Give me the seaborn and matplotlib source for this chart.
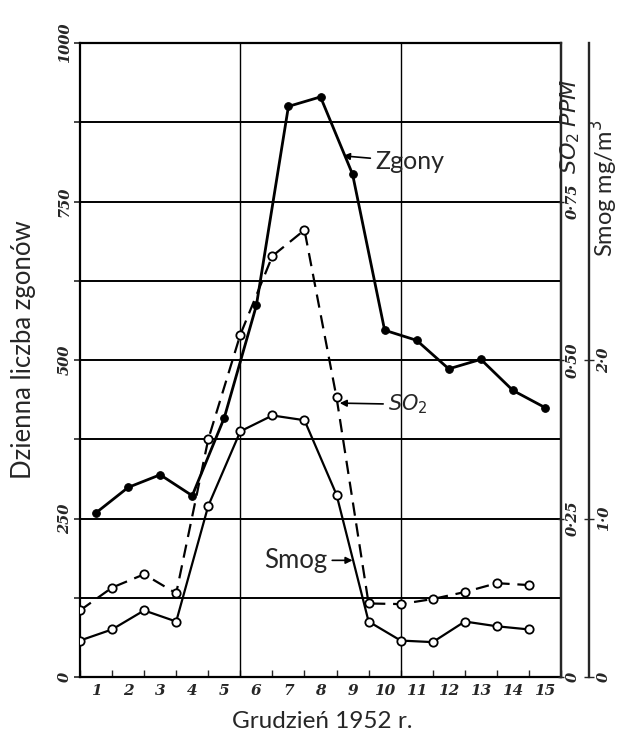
import numpy as np
import pandas as pd
import matplotlib
matplotlib.use("Agg")
import matplotlib.pyplot as plt
import seaborn as sns

# ---- data ----
days = list(range(1, 16))
day_labels = [str(d) for d in days]
deaths = [259, 299, 319, 286, 409, 586, 900, 915, 793, 547, 531, 486, 501, 452, 425]
so2_ppm = [0.105, 0.141, 0.162, 0.132, 0.375, 0.540, 0.664, 0.705, 0.441,
           0.116, 0.115, 0.123, 0.134, 0.148, 0.145]
smog_mg = [0.23, 0.30, 0.42, 0.35, 1.08, 1.55, 1.65, 1.62, 1.15,
           0.35, 0.23, 0.22, 0.35, 0.32, 0.30]
death_ticks = [0, 125, 250, 375, 500, 625, 750, 875, 1000]
death_tick_labels = ["0", "", "250", "", "500", "", "750", "", "1000"]
so2_ticks = [0, 0.25, 0.50, 0.75]
so2_tick_labels = ["0", "0·25", "0·50", "0·75"]
smog_ticks = [0, 1.0, 2.0]
smog_tick_labels = ["0", "1·0", "2·0"]
vgrid_days = [5, 10]

sns.set_style("white")
plt.rcParams["font.family"] = ["Lato", "DejaVu Sans"]
plt.rcParams["mathtext.fontset"] = "dejavusans"

df_d = pd.DataFrame({"x": np.array(days) - 0.5, "y": deaths})
df_p = pd.DataFrame({"x": np.array(days) - 1.0, "so2": so2_ppm, "smog": smog_mg})

W, H = 621, 738
fig = plt.figure(figsize=(W / 100, H / 100), dpi=100)
L, R, T, B = 80, 561, 43, 677
ax = fig.add_axes([L / W, 1 - B / H, (R - L) / W, (B - T) / H])

tickfont = dict(family="DejaVu Serif", style="italic", weight="bold", size=10.5)

# main axis
ax.set_xlim(0, 15)
ax.set_ylim(0, 1000)
ax.set_yticks(death_ticks)
ax.set_yticklabels(death_tick_labels, rotation=90, va="center", **tickfont)
ax.tick_params(axis="y", direction="out", length=4, width=1.2, pad=2, left=True)
ax.set_xticks(range(0, 16))
ax.set_xticklabels([])
ax.tick_params(axis="x", which="major", direction="in", length=5, width=1.0, bottom=True)
ax.set_xticks(np.array(days) - 0.5, minor=True)
ax.set_xticklabels(day_labels, minor=True, **dict(tickfont, size=11))
ax.tick_params(axis="x", which="minor", length=0, pad=5)
ax.grid(axis="y", color="black", linewidth=1.4)
ax.grid(axis="x", visible=False)
for xv in vgrid_days:
    ax.axvline(xv, color="black", linewidth=1.0, zorder=1)
for s in ax.spines.values():
    s.set_color("black")
    s.set_linewidth(1.6)

sns.lineplot(data=df_d, x="x", y="y", ax=ax, color="black", linewidth=2.0,
             marker="o", markersize=5.5, markerfacecolor="black",
             markeredgecolor="black", zorder=5)
ax.set_xlabel("")
ax.set_ylabel("")

# SO2 axis
ax2 = ax.twinx()
ax2.set_ylim(0, 1.0)
sns.lineplot(data=df_p, x="x", y="so2", ax=ax2, color="black", linewidth=1.6,
             linestyle=(0, (6, 3.5)), marker="o", markersize=6,
             markerfacecolor="white", markeredgecolor="black",
             markeredgewidth=1.3, zorder=4)
ax2.set_yticks(so2_ticks)
ax2.set_yticklabels(so2_tick_labels, rotation=90, va="center", **tickfont)
ax2.tick_params(axis="y", direction="inout", length=5, width=1.0, pad=1)
ax2.set_ylabel("")
ax2.set_xlabel("")
for k in ["left", "top", "bottom"]:
    ax2.spines[k].set_visible(False)
ax2.spines["right"].set_linewidth(1.6)

# Smog axis
ax3 = ax.twinx()
ax3.set_ylim(0, 4.0)
sns.lineplot(data=df_p, x="x", y="smog", ax=ax3, color="black", linewidth=1.6,
             marker="o", markersize=6, markerfacecolor="white",
             markeredgecolor="black", markeredgewidth=1.3, zorder=4)
ax3.spines["right"].set_position(("outward", 28 * 0.72))
for k in ["left", "top", "bottom"]:
    ax3.spines[k].set_visible(False)
ax3.spines["right"].set_linewidth(1.7)
ax3.set_yticks(smog_ticks)
ax3.set_yticklabels(smog_tick_labels, rotation=90, va="center", **tickfont)
ax3.tick_params(axis="y", direction="inout", length=7, width=1.0, pad=2)
ax3.set_ylabel("")
ax3.set_xlabel("")
ax3.set_xlim(0, 15)
ax2.set_xlim(0, 15)

# annotations
arrow = dict(arrowstyle="-|>", color="black", lw=1.2, mutation_scale=10,
             shrinkA=1, shrinkB=0)
ax.annotate("Zgony", xy=(8.2, 822), xytext=(9.2, 813), ha="left", va="center",
            fontsize=18, arrowprops=arrow)
ax.annotate("$SO_2$", xy=(8.1, 432), xytext=(9.6, 430), ha="left", va="center",
            fontsize=15, arrowprops=arrow)
ax.annotate("Smog", xy=(8.5, 184), xytext=(7.72, 184), ha="right", va="center",
            fontsize=18.5, arrowprops=arrow)

# axis titles
fig.text(24 / W, 1 - 350 / H, "Dzienna liczba zgonów", rotation=90,
         ha="center", va="center", fontsize=18.5)
fig.text(322 / W, 1 - 721 / H, "Grudzień 1952 r.", ha="center", va="center",
         fontsize=17.5)
fig.text(604 / W, 1 - 188 / H, "Smog mg/m$^3$", rotation=90, ha="center",
         va="center", fontsize=17)
fig.text(570 / W, 1 - 126 / H, "$SO_2$ $PPM$", rotation=90, ha="center",
         va="center", fontsize=16)

fig.savefig("out.png", dpi=100)
